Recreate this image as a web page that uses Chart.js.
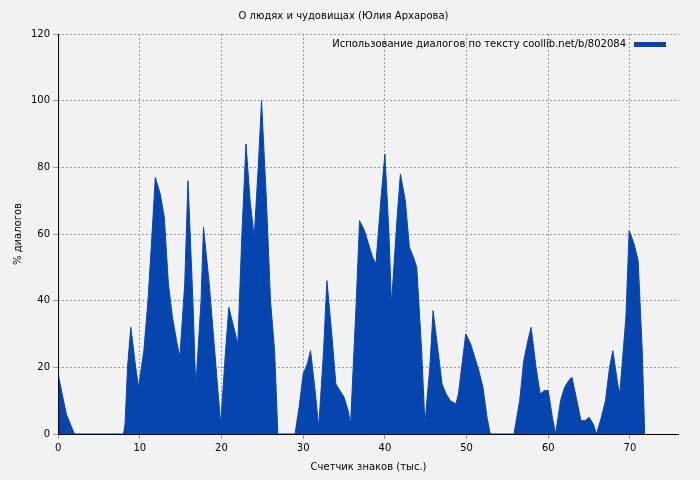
<!DOCTYPE html>
<html><head><meta charset="utf-8">
<script src="https://cdn.jsdelivr.net/npm/chart.js@4"></script>
<style>html,body{margin:0;background:#f2f2f2}#w{width:700px;height:480px}</style>
</head><body><div id="w"><canvas id="c"></canvas></div>
<script>
const xs=[0,0.5,1,1.5,2,8,8.2,8.5,8.9,9.5,9.85,10.5,11,11.5,11.9,12.5,13,13.5,14,14.5,14.9,15.5,15.9,16.5,16.85,17.5,17.8,18.5,19,19.5,19.9,20.5,20.9,21.5,22,22.5,23,23.5,24,24.5,24.9,25.5,26,26.5,26.9,29,29.5,30,30.5,30.9,31.5,31.9,32.5,32.9,33.5,34,34.5,35,35.5,35.8,36.5,36.9,37.5,38,38.5,38.9,39.5,40,40.5,40.8,41.5,41.9,42.5,43,43.5,43.9,44.5,44.9,45.5,45.9,46.5,47,47.5,48,48.7,49,49.5,49.9,50.5,51,51.5,52,52.5,52.9,55.8,56.5,57,57.5,57.9,58.5,59,59.5,60,60.5,60.9,61.5,62,62.5,62.9,63.5,64,64.5,65,65.5,65.9,66.5,67,67.5,67.9,68.5,68.75,69.5,69.9,70.5,71,71.5,71.8];
const ys=[18,12,6,3,0,0,3,20,32,20,14,25,40,60,77,72,65,45,35,28,23,45,76,40,14,40,62,45,30,15,3,25,38,32,27,60,87,70,59,80,100,70,40,25,0,0,8,18,21,25,12,2,25,46,30,15,13,11,7,3,40,64,61,57,53,51,70,84,60,39,65,78,70,56,53,50,25,3,20,37,25,15,12,10,9,12,22,30,27,23,19,14,5,0,0,10,22,28,32,20,12,13,13,5,0,10,14,16,17,10,4,4,5,3,0,5,10,20,25,15,12,35,61,57,52,25,0];
const xTicks=[0,10,20,30,40,50,60,70];
const yTicks=[0,20,40,60,80,100,120];
const label='Использование диалогов по тексту coollib.net/b/802084';
const F='DejaVu Sans';
const col='#0645ad';
const leg={id:'leg',afterDraw(ch){const c=ch.ctx,a=ch.chartArea;c.save();c.font='10px '+F;c.fillStyle='#000';c.textAlign='right';c.textBaseline='middle';c.fillText(label,a.right-53,a.top+10);c.fillStyle=col;c.fillRect(a.right-45,a.top+8,32,5);
c.strokeStyle='#000';c.lineWidth=1;c.beginPath();c.moveTo(a.left+0.5,a.top);c.lineTo(a.left+0.5,a.bottom+0.5);c.lineTo(a.right,a.bottom+0.5);c.stroke();c.restore();}};
new Chart(document.getElementById('c'),{type:'line',
data:{datasets:[{data:xs.map((x,i)=>({x,y:ys[i]})),borderColor:col,backgroundColor:col,fill:'origin',pointRadius:0,borderWidth:1,tension:0}]},
options:{responsive:true,maintainAspectRatio:false,animation:false,
layout:{padding:{left:8,right:21,top:0,bottom:3}},
plugins:{legend:{display:false},tooltip:{enabled:false},
title:{display:true,text:'О людях и чудовищах (Юлия Архарова)',color:'#000',font:{family:F,size:10,weight:'normal'},padding:{top:10,bottom:12}}},
scales:{x:{type:'linear',min:0,max:76,afterBuildTicks:s=>{s.ticks=xTicks.map(v=>({value:v}))},
grid:{color:'#999',tickLength:5,drawTicks:true},border:{display:false,dash:[2,2]},
ticks:{color:'#000',font:{family:F,size:10},maxRotation:0},
title:{display:true,text:'Счетчик знаков (тыс.)',color:'#000',font:{family:F,size:10},padding:{top:4}}},
y:{min:0,max:120,afterBuildTicks:s=>{s.ticks=yTicks.map(v=>({value:v}))},
grid:{color:'#999',tickLength:5},border:{display:false,dash:[2,2]},
ticks:{color:'#000',font:{family:F,size:10}},
title:{display:true,text:'% диалогов',color:'#000',font:{family:F,size:10}}}}},
plugins:[leg]});
</script></body></html>
